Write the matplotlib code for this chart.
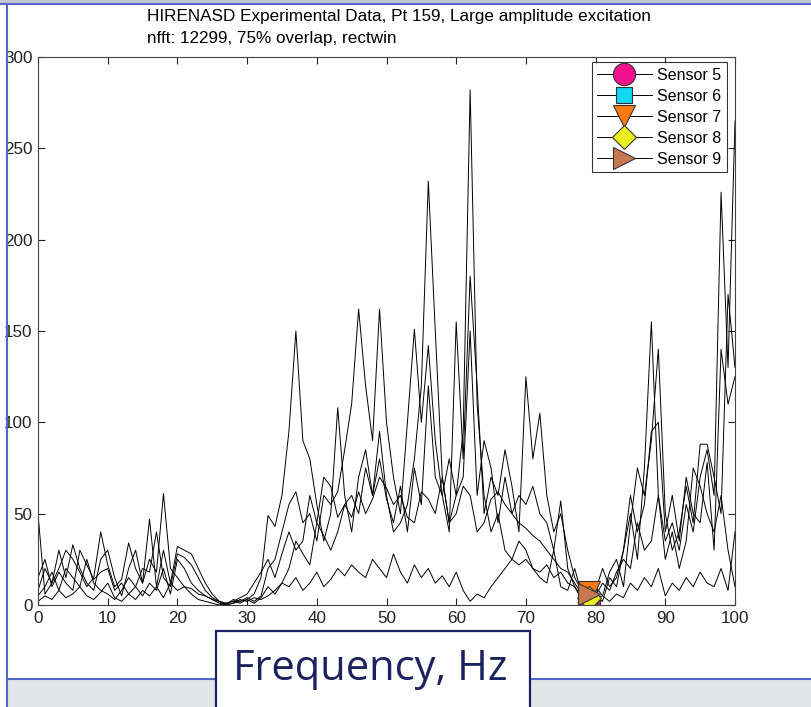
import matplotlib
matplotlib.use("Agg")
import matplotlib.pyplot as plt
from matplotlib.lines import Line2D
from matplotlib.patches import Rectangle
import numpy as np

plt.rcParams['font.family'] = ['Liberation Sans', 'DejaVu Sans']

# frequency axis, 1 Hz bins
freq = np.arange(0, 101)

# PSD magnitude per sensor
sensor5 = [2, 5, 3, 8, 4, 6, 10, 5, 3, 7, 12,
           4, 2, 6, 3, 8, 5, 10, 4, 12, 8,
           10, 9, 6, 5, 3, 2, 0, 1, 3, 2,
           4, 3, 5, 8, 12, 10, 15, 8, 12, 18,
           10, 14, 20, 16, 22, 18, 15, 25, 20, 15,
           28, 18, 12, 22, 15, 20, 12, 16, 10, 18,
           8, 2, 6, 4, 10, 15, 20, 25, 22, 25,
           20, 18, 22, 15, 18, 12, 10, 3, 1.5, 4,
           5, 2, 6, 4, 12, 8, 15, 10, 20, 5,
           12, 8, 15, 10, 18, 12, 10, 20, 8, 40]
sensor6 = [8, 20, 12, 30, 15, 33, 20, 12, 8, 25, 30,
           15, 5, 20, 30, 12, 47, 10, 30, 12, 32,
           30, 28, 20, 12, 6, 2, 0, 3, 2, 4,
           2, 5, 20, 25, 40, 55, 62, 45, 50, 35,
           60, 55, 62, 85, 110, 162, 120, 90, 162, 100,
           70, 50, 100, 151, 100, 142, 90, 60, 40, 155,
           80, 180, 120, 50, 70, 60, 85, 65, 40, 125,
           80, 105, 60, 40, 50, 30, 15, 8, 4, 10,
           5, 18, 25, 10, 45, 75, 60, 90, 140, 50,
           30, 40, 65, 45, 88, 88, 70, 50, 170, 130]
sensor7 = [15, 25, 10, 18, 12, 8, 30, 22, 14, 18, 20,
           8, 12, 6, 10, 20, 18, 40, 15, 10, 28,
           26, 22, 15, 8, 4, 2, 1, 2, 4, 6,
           12, 18, 25, 15, 28, 40, 30, 35, 60, 45,
           70, 65, 48, 55, 60, 50, 75, 60, 80, 58,
           45, 65, 40, 75, 55, 120, 70, 60, 80, 60,
           70, 150, 60, 90, 75, 45, 70, 50, 60, 55,
           65, 50, 45, 30, 57, 20, 10, 5, 7, 8,
           20, 10, 15, 30, 60, 40, 55, 95, 100, 40,
           60, 35, 70, 50, 45, 78, 30, 140, 110, 125]
sensor8 = [50, 6, 12, 20, 30, 25, 18, 10, 15, 40, 22,
           10, 14, 34, 20, 12, 25, 18, 61, 20, 15,
           10, 6, 3, 2, 1, 0, 1, 2, 1, 3,
           6, 15, 49, 43, 60, 95, 150, 90, 80, 55,
           35, 50, 108, 60, 40, 70, 85, 60, 95, 60,
           40, 45, 55, 80, 120, 232, 150, 70, 45, 60,
           95, 282, 110, 60, 40, 50, 30, 25, 35, 30,
           20, 15, 12, 30, 10, 8, 20, 6, 4, 5,
           2, 15, 10, 30, 50, 25, 75, 155, 60, 35,
           45, 30, 55, 40, 70, 85, 60, 226, 130, 265]
sensor9 = [5, 10, 18, 8, 20, 15, 10, 25, 12, 8, 6,
           3, 8, 15, 10, 5, 12, 8, 20, 6, 25,
           20, 12, 8, 5, 3, 1, 0, 1, 2, 3,
           1, 4, 10, 6, 12, 20, 35, 28, 22, 45,
           38, 30, 40, 55, 48, 62, 50, 58, 70, 64,
           55, 60, 48, 45, 62, 58, 50, 70, 45, 50,
           65, 60, 40, 45, 58, 62, 55, 50, 45, 42,
           38, 35, 30, 25, 20, 18, 12, 6, 6, 5,
           12, 8, 18, 25, 20, 45, 30, 35, 60, 25,
           40, 20, 35, 75, 65, 50, 40, 60, 30, 10]

labels = ['Sensor 5', 'Sensor 6', 'Sensor 7', 'Sensor 8', 'Sensor 9']
markers = ['o', 's', 'v', 'D', '>']
colors = ['#f0108c', '#10d8f0', '#ff7a10', '#e8f020', '#c87850']
sizes = [16, 12, 16, 12, 16]
cur_idx = 79  # highlighted bin

W, H = 811, 707
fig = plt.figure(figsize=(W / 100, H / 100), dpi=100)
ax = fig.add_axes([38 / W, 1 - 605 / H, (735 - 38) / W, (605 - 57) / H])

for y, lab, m, c, s in zip([sensor5, sensor6, sensor7, sensor8, sensor9],
                           labels, markers, colors, sizes):
    ax.plot(freq, y, color='black', lw=0.7, marker=m, markevery=[cur_idx],
            markersize=s, markerfacecolor=c, markeredgecolor='#333333',
            markeredgewidth=0.8, label=lab)

ax.set_xlim(0, 100)
ax.set_ylim(0, 300)
ax.set_xticks(range(0, 101, 10))
ax.set_yticks(range(0, 301, 50))
ax.tick_params(direction='in', top=True, right=True, length=5, width=0.8,
               labelsize=12.3, colors='#222222', pad=4)
for sp in ax.spines.values():
    sp.set_color('#444444')
    sp.set_linewidth(0.8)

leg = ax.legend(loc='upper right', bbox_to_anchor=(1 - 8 / 697, 1 - 5 / 548),
                borderaxespad=0, fontsize=11.5, frameon=True, fancybox=False,
                handlelength=3.4, labelspacing=0.38, borderpad=0.35,
                handletextpad=0.35)
leg.get_frame().set_edgecolor('black')
leg.get_frame().set_linewidth(0.8)

fig.text(147 / W, 1 - 17 / H,
         'HIRENASD Experimental Data, Pt 159, Large amplitude excitation',
         fontsize=12.3, va='center', ha='left')
fig.text(147 / W, 1 - 39 / H, 'nfft: 12299, 75% overlap, rectwin',
         fontsize=12.3, va='center', ha='left')

# slide frame around the figure
blue = '#5266cc'
fig.add_artist(Rectangle((8 / W, 0), 1, (707 - 680) / H, transform=fig.transFigure,
                         facecolor='#e4e5e9', edgecolor='none', zorder=5))
fig.add_artist(Line2D([8 / W, 1], [1 - 679 / H] * 2, transform=fig.transFigure,
                      color=blue, lw=1.5, zorder=6))
fig.add_artist(Rectangle((0, 1 - 4 / H), 1, 4 / H, transform=fig.transFigure,
                         facecolor='#c4c8d2', edgecolor='none', zorder=5))
fig.add_artist(Line2D([0, 1], [1 - 4 / H] * 2, transform=fig.transFigure,
                      color=blue, lw=1.5, zorder=6))
fig.add_artist(Line2D([7 / W] * 2, [0, 1 - 4 / H], transform=fig.transFigure,
                      color=blue, lw=1.5, zorder=6))

# x-axis caption box
fig.add_artist(Rectangle((216 / W, -0.01), (530 - 216) / W, (707 - 631) / H + 0.01,
                         transform=fig.transFigure, facecolor='white',
                         edgecolor='#1c2260', lw=1.6, zorder=7))
fig.text(370 / W, 1 - 669 / H, 'Frequency, Hz', fontsize=30, color='#1c2260',
         family=['Open Sans', 'DejaVu Sans'], ha='center', va='center', zorder=8)

fig.savefig('out.png', dpi=100)
